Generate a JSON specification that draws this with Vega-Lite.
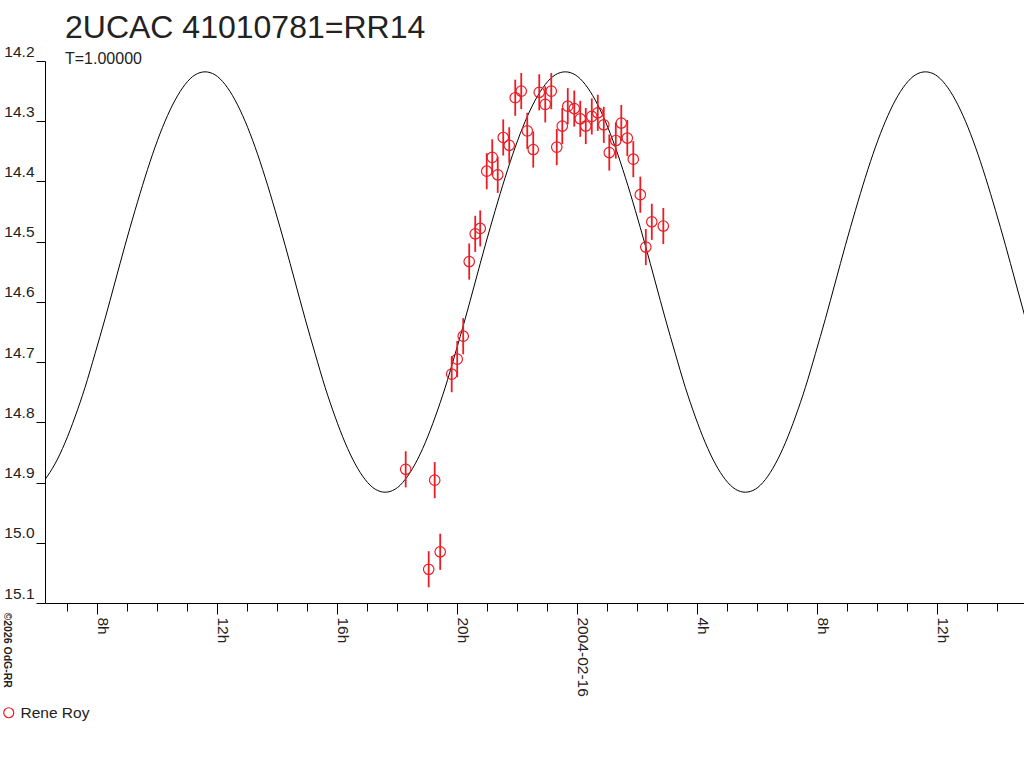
{
  "autosize": {"type": "none"},
  "padding": {"left": 45, "top": 61, "right": 0, "bottom": 165},
  "width": 979,
  "height": 542,
  "background": "white",
  "title": {
    "text": "2UCAC 41010781=RR14",
    "subtitle": "T=1.00000",
    "anchor": "start",
    "frame": "group",
    "dx": 20,
    "offset": -24,
    "fontSize": 32,
    "fontWeight": "normal",
    "color": "#222",
    "subtitleFontSize": 16,
    "subtitleColor": "#222",
    "subtitlePadding": 6
  },
  "datasets": {
    "curve": [
      {"t": "2004-02-15T06:16:00Z", "mag": 14.895},
      {"t": "2004-02-15T06:36:00Z", "mag": 14.869},
      {"t": "2004-02-15T06:56:00Z", "mag": 14.834},
      {"t": "2004-02-15T07:16:00Z", "mag": 14.791},
      {"t": "2004-02-15T07:36:00Z", "mag": 14.742},
      {"t": "2004-02-15T07:56:00Z", "mag": 14.686},
      {"t": "2004-02-15T08:16:00Z", "mag": 14.628},
      {"t": "2004-02-15T08:36:00Z", "mag": 14.567},
      {"t": "2004-02-15T08:56:00Z", "mag": 14.506},
      {"t": "2004-02-15T09:16:00Z", "mag": 14.448},
      {"t": "2004-02-15T09:36:00Z", "mag": 14.393},
      {"t": "2004-02-15T09:56:00Z", "mag": 14.343},
      {"t": "2004-02-15T10:16:00Z", "mag": 14.300},
      {"t": "2004-02-15T10:36:00Z", "mag": 14.265},
      {"t": "2004-02-15T10:56:00Z", "mag": 14.239},
      {"t": "2004-02-15T11:16:00Z", "mag": 14.223},
      {"t": "2004-02-15T11:36:00Z", "mag": 14.218},
      {"t": "2004-02-15T11:56:00Z", "mag": 14.223},
      {"t": "2004-02-15T12:16:00Z", "mag": 14.239},
      {"t": "2004-02-15T12:36:00Z", "mag": 14.265},
      {"t": "2004-02-15T12:56:00Z", "mag": 14.300},
      {"t": "2004-02-15T13:16:00Z", "mag": 14.343},
      {"t": "2004-02-15T13:36:00Z", "mag": 14.393},
      {"t": "2004-02-15T13:56:00Z", "mag": 14.448},
      {"t": "2004-02-15T14:16:00Z", "mag": 14.506},
      {"t": "2004-02-15T14:36:00Z", "mag": 14.567},
      {"t": "2004-02-15T14:56:00Z", "mag": 14.628},
      {"t": "2004-02-15T15:16:00Z", "mag": 14.686},
      {"t": "2004-02-15T15:36:00Z", "mag": 14.742},
      {"t": "2004-02-15T15:56:00Z", "mag": 14.791},
      {"t": "2004-02-15T16:16:00Z", "mag": 14.834},
      {"t": "2004-02-15T16:36:00Z", "mag": 14.869},
      {"t": "2004-02-15T16:56:00Z", "mag": 14.895},
      {"t": "2004-02-15T17:16:00Z", "mag": 14.911},
      {"t": "2004-02-15T17:36:00Z", "mag": 14.916},
      {"t": "2004-02-15T17:56:00Z", "mag": 14.911},
      {"t": "2004-02-15T18:16:00Z", "mag": 14.895},
      {"t": "2004-02-15T18:36:00Z", "mag": 14.869},
      {"t": "2004-02-15T18:56:00Z", "mag": 14.834},
      {"t": "2004-02-15T19:16:00Z", "mag": 14.791},
      {"t": "2004-02-15T19:36:00Z", "mag": 14.742},
      {"t": "2004-02-15T19:56:00Z", "mag": 14.686},
      {"t": "2004-02-15T20:16:00Z", "mag": 14.628},
      {"t": "2004-02-15T20:36:00Z", "mag": 14.567},
      {"t": "2004-02-15T20:56:00Z", "mag": 14.506},
      {"t": "2004-02-15T21:16:00Z", "mag": 14.448},
      {"t": "2004-02-15T21:36:00Z", "mag": 14.393},
      {"t": "2004-02-15T21:56:00Z", "mag": 14.343},
      {"t": "2004-02-15T22:16:00Z", "mag": 14.300},
      {"t": "2004-02-15T22:36:00Z", "mag": 14.265},
      {"t": "2004-02-15T22:56:00Z", "mag": 14.239},
      {"t": "2004-02-15T23:16:00Z", "mag": 14.223},
      {"t": "2004-02-15T23:36:00Z", "mag": 14.218},
      {"t": "2004-02-15T23:56:00Z", "mag": 14.223},
      {"t": "2004-02-16T00:16:00Z", "mag": 14.239},
      {"t": "2004-02-16T00:36:00Z", "mag": 14.265},
      {"t": "2004-02-16T00:56:00Z", "mag": 14.300},
      {"t": "2004-02-16T01:16:00Z", "mag": 14.343},
      {"t": "2004-02-16T01:36:00Z", "mag": 14.393},
      {"t": "2004-02-16T01:56:00Z", "mag": 14.448},
      {"t": "2004-02-16T02:16:00Z", "mag": 14.506},
      {"t": "2004-02-16T02:36:00Z", "mag": 14.567},
      {"t": "2004-02-16T02:56:00Z", "mag": 14.628},
      {"t": "2004-02-16T03:16:00Z", "mag": 14.686},
      {"t": "2004-02-16T03:36:00Z", "mag": 14.742},
      {"t": "2004-02-16T03:56:00Z", "mag": 14.791},
      {"t": "2004-02-16T04:16:00Z", "mag": 14.834},
      {"t": "2004-02-16T04:36:00Z", "mag": 14.869},
      {"t": "2004-02-16T04:56:00Z", "mag": 14.895},
      {"t": "2004-02-16T05:16:00Z", "mag": 14.911},
      {"t": "2004-02-16T05:36:00Z", "mag": 14.916},
      {"t": "2004-02-16T05:56:00Z", "mag": 14.911},
      {"t": "2004-02-16T06:16:00Z", "mag": 14.895},
      {"t": "2004-02-16T06:36:00Z", "mag": 14.869},
      {"t": "2004-02-16T06:56:00Z", "mag": 14.834},
      {"t": "2004-02-16T07:16:00Z", "mag": 14.791},
      {"t": "2004-02-16T07:36:00Z", "mag": 14.742},
      {"t": "2004-02-16T07:56:00Z", "mag": 14.686},
      {"t": "2004-02-16T08:16:00Z", "mag": 14.628},
      {"t": "2004-02-16T08:36:00Z", "mag": 14.567},
      {"t": "2004-02-16T08:56:00Z", "mag": 14.506},
      {"t": "2004-02-16T09:16:00Z", "mag": 14.448},
      {"t": "2004-02-16T09:36:00Z", "mag": 14.393},
      {"t": "2004-02-16T09:56:00Z", "mag": 14.343},
      {"t": "2004-02-16T10:16:00Z", "mag": 14.300},
      {"t": "2004-02-16T10:36:00Z", "mag": 14.265},
      {"t": "2004-02-16T10:56:00Z", "mag": 14.239},
      {"t": "2004-02-16T11:16:00Z", "mag": 14.223},
      {"t": "2004-02-16T11:36:00Z", "mag": 14.218},
      {"t": "2004-02-16T11:56:00Z", "mag": 14.223},
      {"t": "2004-02-16T12:16:00Z", "mag": 14.239},
      {"t": "2004-02-16T12:36:00Z", "mag": 14.265},
      {"t": "2004-02-16T12:56:00Z", "mag": 14.300},
      {"t": "2004-02-16T13:16:00Z", "mag": 14.343},
      {"t": "2004-02-16T13:36:00Z", "mag": 14.393},
      {"t": "2004-02-16T13:56:00Z", "mag": 14.448},
      {"t": "2004-02-16T14:16:00Z", "mag": 14.506},
      {"t": "2004-02-16T14:36:00Z", "mag": 14.567},
      {"t": "2004-02-16T14:56:00Z", "mag": 14.628}
    ],
    "obs": [
      {"t": "2004-02-15T18:17:00Z", "mag": 14.878, "lo": 14.848, "hi": 14.908, "observer": "Rene Roy"},
      {"t": "2004-02-15T19:03:00Z", "mag": 15.044, "lo": 15.014, "hi": 15.074, "observer": "Rene Roy"},
      {"t": "2004-02-15T19:15:00Z", "mag": 14.896, "lo": 14.866, "hi": 14.926, "observer": "Rene Roy"},
      {"t": "2004-02-15T19:26:00Z", "mag": 15.015, "lo": 14.985, "hi": 15.045, "observer": "Rene Roy"},
      {"t": "2004-02-15T19:49:00Z", "mag": 14.720, "lo": 14.690, "hi": 14.750, "observer": "Rene Roy"},
      {"t": "2004-02-15T20:00:00Z", "mag": 14.695, "lo": 14.665, "hi": 14.725, "observer": "Rene Roy"},
      {"t": "2004-02-15T20:12:00Z", "mag": 14.657, "lo": 14.627, "hi": 14.687, "observer": "Rene Roy"},
      {"t": "2004-02-15T20:24:00Z", "mag": 14.533, "lo": 14.503, "hi": 14.563, "observer": "Rene Roy"},
      {"t": "2004-02-15T20:36:00Z", "mag": 14.487, "lo": 14.457, "hi": 14.517, "observer": "Rene Roy"},
      {"t": "2004-02-15T20:46:00Z", "mag": 14.478, "lo": 14.448, "hi": 14.508, "observer": "Rene Roy"},
      {"t": "2004-02-15T20:59:00Z", "mag": 14.383, "lo": 14.353, "hi": 14.413, "observer": "Rene Roy"},
      {"t": "2004-02-15T21:10:00Z", "mag": 14.360, "lo": 14.330, "hi": 14.390, "observer": "Rene Roy"},
      {"t": "2004-02-15T21:21:00Z", "mag": 14.389, "lo": 14.359, "hi": 14.419, "observer": "Rene Roy"},
      {"t": "2004-02-15T21:32:00Z", "mag": 14.327, "lo": 14.297, "hi": 14.357, "observer": "Rene Roy"},
      {"t": "2004-02-15T21:44:00Z", "mag": 14.340, "lo": 14.310, "hi": 14.370, "observer": "Rene Roy"},
      {"t": "2004-02-15T21:56:00Z", "mag": 14.261, "lo": 14.231, "hi": 14.291, "observer": "Rene Roy"},
      {"t": "2004-02-15T22:08:00Z", "mag": 14.250, "lo": 14.220, "hi": 14.280, "observer": "Rene Roy"},
      {"t": "2004-02-15T22:20:00Z", "mag": 14.316, "lo": 14.286, "hi": 14.346, "observer": "Rene Roy"},
      {"t": "2004-02-15T22:32:00Z", "mag": 14.347, "lo": 14.317, "hi": 14.377, "observer": "Rene Roy"},
      {"t": "2004-02-15T22:44:00Z", "mag": 14.252, "lo": 14.222, "hi": 14.282, "observer": "Rene Roy"},
      {"t": "2004-02-15T22:56:00Z", "mag": 14.272, "lo": 14.242, "hi": 14.302, "observer": "Rene Roy"},
      {"t": "2004-02-15T23:08:00Z", "mag": 14.250, "lo": 14.220, "hi": 14.280, "observer": "Rene Roy"},
      {"t": "2004-02-15T23:19:00Z", "mag": 14.343, "lo": 14.313, "hi": 14.373, "observer": "Rene Roy"},
      {"t": "2004-02-15T23:30:00Z", "mag": 14.308, "lo": 14.278, "hi": 14.338, "observer": "Rene Roy"},
      {"t": "2004-02-15T23:41:00Z", "mag": 14.275, "lo": 14.245, "hi": 14.305, "observer": "Rene Roy"},
      {"t": "2004-02-15T23:54:00Z", "mag": 14.279, "lo": 14.249, "hi": 14.309, "observer": "Rene Roy"},
      {"t": "2004-02-16T00:06:00Z", "mag": 14.296, "lo": 14.266, "hi": 14.326, "observer": "Rene Roy"},
      {"t": "2004-02-16T00:17:00Z", "mag": 14.308, "lo": 14.278, "hi": 14.338, "observer": "Rene Roy"},
      {"t": "2004-02-16T00:29:00Z", "mag": 14.292, "lo": 14.262, "hi": 14.322, "observer": "Rene Roy"},
      {"t": "2004-02-16T00:41:00Z", "mag": 14.286, "lo": 14.256, "hi": 14.316, "observer": "Rene Roy"},
      {"t": "2004-02-16T00:53:00Z", "mag": 14.306, "lo": 14.276, "hi": 14.336, "observer": "Rene Roy"},
      {"t": "2004-02-16T01:04:00Z", "mag": 14.352, "lo": 14.322, "hi": 14.382, "observer": "Rene Roy"},
      {"t": "2004-02-16T01:17:00Z", "mag": 14.332, "lo": 14.302, "hi": 14.362, "observer": "Rene Roy"},
      {"t": "2004-02-16T01:28:00Z", "mag": 14.303, "lo": 14.273, "hi": 14.333, "observer": "Rene Roy"},
      {"t": "2004-02-16T01:40:00Z", "mag": 14.328, "lo": 14.298, "hi": 14.358, "observer": "Rene Roy"},
      {"t": "2004-02-16T01:52:00Z", "mag": 14.363, "lo": 14.333, "hi": 14.393, "observer": "Rene Roy"},
      {"t": "2004-02-16T02:06:00Z", "mag": 14.422, "lo": 14.392, "hi": 14.452, "observer": "Rene Roy"},
      {"t": "2004-02-16T02:17:00Z", "mag": 14.509, "lo": 14.479, "hi": 14.539, "observer": "Rene Roy"},
      {"t": "2004-02-16T02:29:00Z", "mag": 14.467, "lo": 14.437, "hi": 14.497, "observer": "Rene Roy"},
      {"t": "2004-02-16T02:52:00Z", "mag": 14.474, "lo": 14.444, "hi": 14.504, "observer": "Rene Roy"}
    ]
  },
  "layer": [
    {
      "data": {"name": "curve"},
      "mark": {"type": "line", "color": "#000", "strokeWidth": 1, "interpolate": "monotone", "clip": true},
      "encoding": {
        "x": {
          "field": "t",
          "type": "temporal",
          "scale": {"type": "utc", "domain": [1076825760000, 1076943180000]},
          "axis": {
            "values": [1076828400000, 1076832000000, 1076835600000, 1076839200000, 1076842800000, 1076846400000, 1076850000000, 1076853600000, 1076857200000, 1076860800000, 1076864400000, 1076868000000, 1076871600000, 1076875200000, 1076878800000, 1076882400000, 1076886000000, 1076889600000, 1076893200000, 1076896800000, 1076900400000, 1076904000000, 1076907600000, 1076911200000, 1076914800000, 1076918400000, 1076922000000, 1076925600000, 1076929200000, 1076932800000, 1076936400000, 1076940000000],
            "tickCount": 100,
            "tickSize": {"condition": {"test": "utchours(datum.value) % 4 == 0", "value": 11}, "value": 8},
            "labelAngle": 90,
            "labelAlign": "left",
            "labelBaseline": "alphabetic",
            "labelPadding": 3,
            "labelFlush": false,
            "labelOverlap": false,
            "labelExpr": "utchours(datum.value) % 4 != 0 ? '' : utchours(datum.value) == 0 ? utcFormat(datum.value, '%Y-%m-%d') : utchours(datum.value) + 'h'",
            "title": null
          }
        },
        "y": {
          "field": "mag",
          "type": "quantitative",
          "scale": {"domain": [14.2, 15.1], "reverse": true, "nice": false, "zero": false},
          "axis": {
            "values": [14.2, 14.3, 14.4, 14.5, 14.6, 14.7, 14.8, 14.9, 15.0, 15.1],
            "format": ".1f",
            "tickSize": 9,
            "labelPadding": 2,
            "labelBaseline": "alphabetic",
            "labelOffset": -5,
            "labelFlush": false,
            "title": "©2026 OdG-RR",
            "titleAngle": 90,
            "titleX": -42,
            "titleY": 551,
            "titleAlign": "left",
            "titleBaseline": "alphabetic",
            "titleFontSize": 10.5,
            "titleFontWeight": "bold",
            "titleColor": "#222"
          }
        }
      }
    },
    {
      "data": {"name": "obs"},
      "mark": {"type": "rule", "color": "#ed1c24", "strokeWidth": 1.8},
      "encoding": {
        "x": {"field": "t", "type": "temporal"},
        "y": {"field": "lo", "type": "quantitative"},
        "y2": {"field": "hi"}
      }
    },
    {
      "data": {"name": "obs"},
      "mark": {"type": "point", "shape": "circle", "filled": false, "size": 110, "strokeWidth": 1.2, "opacity": 1},
      "encoding": {
        "x": {"field": "t", "type": "temporal"},
        "y": {"field": "mag", "type": "quantitative"},
        "color": {
          "field": "observer",
          "type": "nominal",
          "scale": {"range": ["#ed1c24"]},
          "legend": {
            "orient": "none",
            "legendX": -44,
            "legendY": 644,
            "title": null,
            "symbolType": "circle",
            "symbolSize": 100,
            "symbolStrokeWidth": 1.2,
            "labelFontSize": 15.5,
            "labelColor": "#222",
            "labelOffset": 4,
            "padding": 0
          }
        }
      }
    }
  ],
  "config": {
    "font": "Liberation Sans",
    "view": {"stroke": null},
    "axis": {
      "grid": false,
      "labelFontSize": 15.5,
      "labelColor": "#222",
      "domainColor": "#000",
      "tickColor": "#000",
      "domainWidth": 1,
      "tickWidth": 1
    }
  }
}
